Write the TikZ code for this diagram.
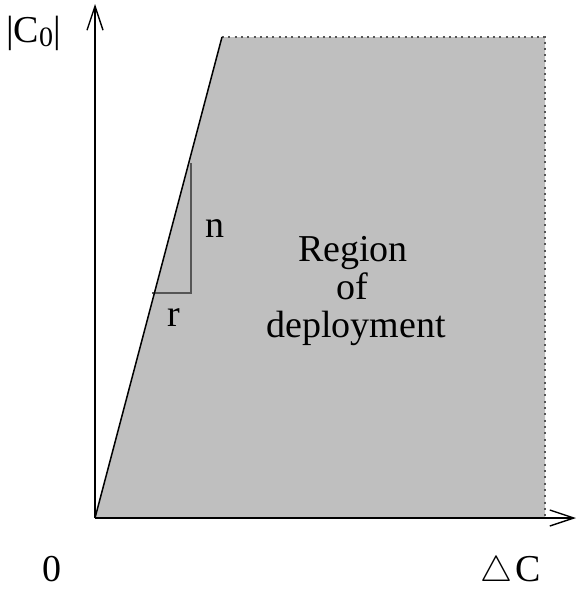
\documentclass[tikz,border=0pt]{standalone}
\usepackage{fontspec}
\setmainfont{Liberation Serif}
\usetikzlibrary{arrows.meta}
\definecolor{regiongray}{RGB}{191,191,191}
\definecolor{edgegray}{RGB}{85,85,85}
\tikzset{
  axisline/.style={line width=1.4pt, draw=black, -{Straight Barb[length=24pt,width=16pt,line width=1.4pt]}},
  slantline/.style={line width=1.5pt, draw=black},
  slopeline/.style={line width=1.2pt, draw=edgegray},
  dotborder/.style={line width=1.5pt, draw=edgegray, dash pattern=on 2pt off 4.3pt},
  lbl/.style={inner sep=0pt, anchor=base, font=\fontsize{38}{38}\selectfont},
}
\begin{document}
\begin{tikzpicture}[x=1pt,y=-1pt]
\useasboundingbox (0,0) rectangle (577,589);
\coordinate (O) at (95,518);
\coordinate (T) at (222,37);
\coordinate (TR) at (545,37);
\coordinate (BR) at (545,518);
\coordinate (Ytip) at (95,4);
\coordinate (Xtip) at (576,518);
\coordinate (S1) at (191,163);
\coordinate (S2) at (191,293);
\coordinate (S3) at (152,293);
% shaded region
\fill[regiongray] (O) -- (T) -- (TR) -- (BR) -- cycle;
\draw[dotborder] (T) -- (TR) -- (BR);
% slope triangle
\draw[slopeline] (S1) -- (S2) -- (S3);
% slanted edge
\draw[slantline] (O) -- (T);
% axes
\draw[axisline] (O) -- (Ytip);
\draw[axisline] (O) -- (Xtip);
% labels
\node[lbl, anchor=base west] (c0) at (6,42) {|C\raisebox{-4pt}{\fontsize{28}{28}\selectfont 0}|};
\node[lbl, anchor=base west] (n) at (205,237) {n};
\node[lbl, anchor=base west] (r) at (167,326) {r};
\node[lbl] (reg1) at (353,261) {Region};
\node[lbl] (reg2) at (352,299) {of};
\node[lbl] (reg3) at (356,337) {deployment};
\node[lbl, anchor=base west] (zero) at (42,581) {0};
\node[lbl, anchor=base west] (dc) at (480,581) {\resizebox{32pt}{!}{$\bigtriangleup$}\kern3pt C};
\end{tikzpicture}
\end{document}
